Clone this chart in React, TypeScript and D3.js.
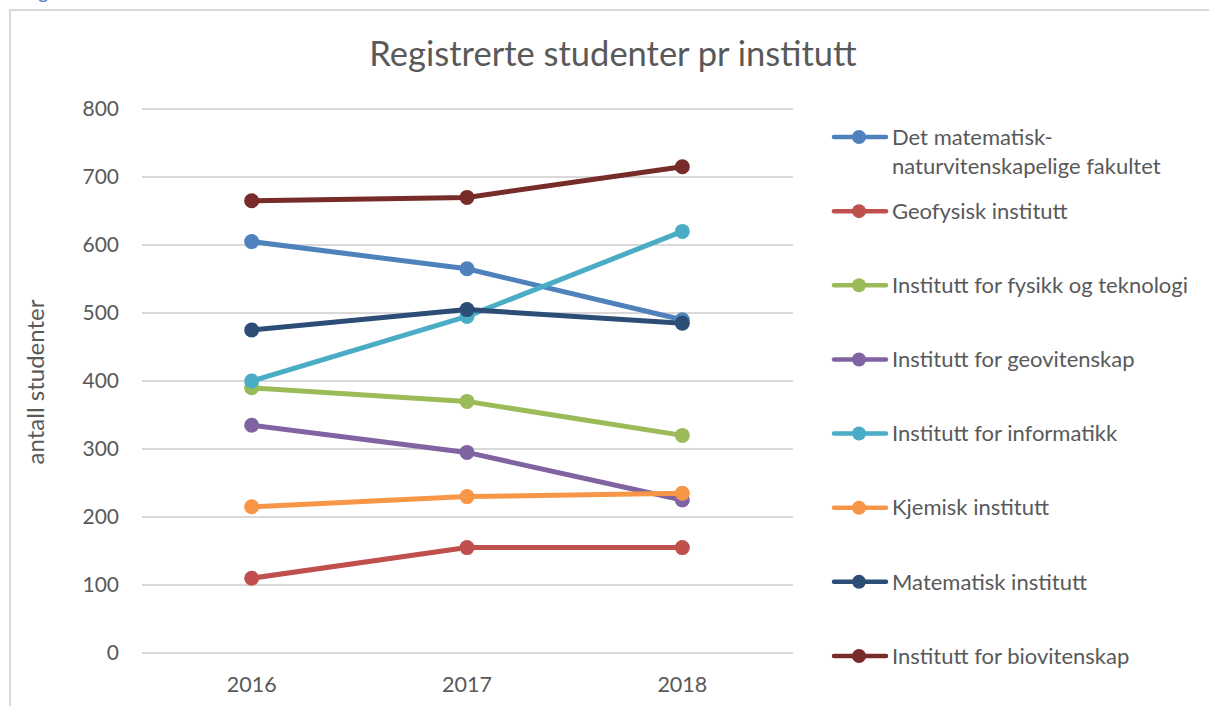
import React from "react";
import * as d3 from "d3";

const years = ["2016", "2017", "2018"];
const yTicks = [0, 100, 200, 300, 400, 500, 600, 700, 800];

const seriesNames = [
  "Det matematisk-naturvitenskapelige fakultet",
  "Geofysisk institutt",
  "Institutt for fysikk og teknologi",
  "Institutt for geovitenskap",
  "Institutt for informatikk",
  "Kjemisk institutt",
  "Matematisk institutt",
  "Institutt for biovitenskap",
];
const legendLines = [
  ["Det matematisk-", "naturvitenskapelige fakultet"],
  ["Geofysisk institutt"],
  ["Institutt for fysikk og teknologi"],
  ["Institutt for geovitenskap"],
  ["Institutt for informatikk"],
  ["Kjemisk institutt"],
  ["Matematisk institutt"],
  ["Institutt for biovitenskap"],
];
const colors = ["#4F81BD", "#C0504D", "#9BBB59", "#8064A2", "#4BACC6", "#F79646", "#2C4D75", "#772C2A"];

const matnat = [605, 565, 490];
const geofysisk = [110, 155, 155];
const fysikk = [390, 370, 320];
const geovitenskap = [335, 295, 225];
const informatikk = [400, 495, 620];
const kjemisk = [215, 230, 235];
const matematisk = [475, 505, 485];
const biovitenskap = [665, 670, 715];
const seriesValues = [matnat, geofysisk, fysikk, geovitenskap, informatikk, kjemisk, matematisk, biovitenskap];

const FONT = "Lato, 'Open Sans', sans-serif";
const TEXT = "#595959";

export default function App() {
  const W = 1209, H = 706;
  const x = d3.scaleBand().domain(years).range([144, 790]);
  const y = d3.scaleLinear().domain([0, 800]).range([653, 109]);
  const line = d3
    .line<number>()
    .x((_, i) => (x(years[i]) as number) + x.bandwidth() / 2)
    .y((d) => y(d));
  const legendY = d3.scaleLinear().domain([0, seriesNames.length - 1]).range([137, 656]);

  return (
    <div style={{ position: "absolute", left: 0, top: 0 }}>
      <svg width={W} height={H} style={{ display: "block", background: "#fff" }}>
        <text x={22} y={-1.5} fill="#4F81BD" fontFamily={FONT} fontSize={20}>Fig</text>
        <path d={`M10,${H} V10 H${W}`} fill="none" stroke="#D9D9D9" strokeWidth={2} />
        <text x={613} y={66} textAnchor="middle" fill={TEXT} fontFamily={FONT} fontSize={34.5}>
          Registrerte studenter pr institutt
        </text>
        {yTicks.map((t) => (
          <g key={t}>
            <line x1={142} x2={793} y1={y(t)} y2={y(t)} stroke="#D9D9D9" strokeWidth={2} />
            <text x={119} y={y(t)} dy="0.35em" textAnchor="end" fill={TEXT} fontFamily={FONT} fontSize={21}>
              {t}
            </text>
          </g>
        ))}
        {years.map((yr) => (
          <text key={yr} x={(x(yr) as number) + x.bandwidth() / 2} y={692} textAnchor="middle" fill={TEXT} fontFamily={FONT} fontSize={21.5}>
            {yr}
          </text>
        ))}
        <text transform={`translate(44,382) rotate(-90)`} textAnchor="middle" fill={TEXT} fontFamily={FONT} fontSize={24}>
          antall studenter
        </text>
        {seriesValues.map((vals, si) => (
          <g key={si}>
            <path d={line(vals) || ""} fill="none" stroke={colors[si]} strokeWidth={5} strokeLinecap="round" strokeLinejoin="round" />
            {vals.map((v, i) => (
              <circle key={i} cx={(x(years[i]) as number) + x.bandwidth() / 2} cy={y(v)} r={7.5} fill={colors[si]} />
            ))}
          </g>
        ))}
        {seriesNames.map((name, si) => {
          const ly = legendY(si);
          return (
            <g key={name}>
              <line x1={834} x2={886} y1={ly} y2={ly} stroke={colors[si]} strokeWidth={4.5} strokeLinecap="round" />
              <circle cx={859} cy={ly} r={7} fill={colors[si]} />
              {legendLines[si].map((ln, li) => (
                <text key={li} x={892} y={ly + li * 29} dy="0.35em" fill={TEXT} fontFamily={FONT} fontSize={22}>
                  {ln}
                </text>
              ))}
            </g>
          );
        })}
      </svg>
    </div>
  );
}
